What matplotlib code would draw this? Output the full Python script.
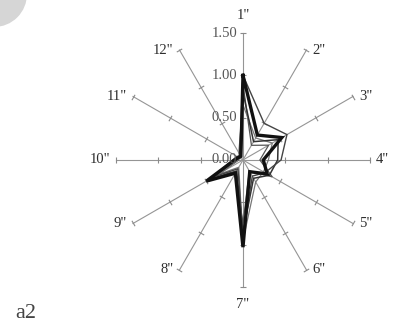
import numpy as np
import matplotlib
matplotlib.use("Agg")
import matplotlib.pyplot as plt
import matplotlib.patches as patches

# twelve directions, clock positions
CATEGORIES = ['1"', '2"', '3"', '4"', '5"', '6"', '7"', '8"', '9"', '10"', '11"', '12"']
RADIAL_TICKS = [0.0, 0.5, 1.0, 1.5]
RADIAL_LABELS = ["0.00", "0.50", "1.00", "1.50"]

# one list per profile, values for 1" .. 12"
prof_a = [1.00, 0.34, 0.53, 0.24, 0.33, 0.16, 1.03, 0.18, 0.50, 0.10, 0.06, 0.05]
prof_b = [1.00, 0.50, 0.60, 0.45, 0.30, 0.22, 0.90, 0.12, 0.40, 0.08, 0.05, 0.08]
prof_c = [0.80, 0.25, 0.48, 0.41, 0.36, 0.25, 0.85, 0.15, 0.45, 0.12, 0.08, 0.06]
prof_d = [0.65, 0.30, 0.40, 0.30, 0.28, 0.30, 0.95, 0.10, 0.35, 0.06, 0.04, 0.10]
prof_e = [0.90, 0.20, 0.35, 0.20, 0.40, 0.15, 0.75, 0.18, 0.30, 0.05, 0.07, 0.04]

profiles = [prof_e, prof_d, prof_c, prof_b, prof_a]
line_colors = ["#555555", "#777777", "#333333", "#444444", "#111111"]
line_widths = [0.9, 0.9, 1.1, 1.0, 2.4]

SERIF = ["Liberation Serif", "DejaVu Serif"]
TXT = "#2e2e2e"

fig = plt.figure(figsize=(3.98, 3.25), dpi=100)
fig.patch.set_facecolor("white")

# grey blotch in the upper-left corner
fig.patches.append(patches.Ellipse((-6 / 398, 1 + 6 / 325), 66 / 398, 66 / 325,
                                   transform=fig.transFigure, facecolor="#d6d6d6",
                                   edgecolor="none"))

ax = fig.add_axes([0.2915, 0.117, 0.638, 0.7815], projection="polar")
ax.set_theta_zero_location("N")
ax.set_theta_direction(-1)
ax.set_ylim(0, 1.5)
ax.set_axis_off()

n = len(CATEGORIES)
theta = np.linspace(0, 2 * np.pi, n, endpoint=False)
rmax = RADIAL_TICKS[-1]

# spokes with small cross ticks
for i, t in enumerate(theta):
    ax.plot([t, t], [0, rmax], color="#959595", lw=0.8, clip_on=False, zorder=1)
    rot = 90 - np.degrees(t)
    ax.plot([t] * 3, RADIAL_TICKS[1:], linestyle="none", marker=(2, 0, rot),
            markersize=4.5, markeredgewidth=0.8, markeredgecolor="#8a8a8a",
            clip_on=False, zorder=1)

# profiles
for vals, c, w in zip(profiles, line_colors, line_widths):
    v = np.append(vals, vals[0])
    t = np.append(theta, theta[0])
    ax.plot(t, v, color=c, lw=w, solid_joinstyle="miter", zorder=3)

# radial value labels along the 1" spoke
for r, lab in zip(RADIAL_TICKS, RADIAL_LABELS):
    ax.annotate(lab, xy=(0, r), xytext=(-6, 0), textcoords="offset pixels",
                ha="right", va="center", fontsize=10.5, family=SERIF,
                color="#555555", zorder=4)

# direction labels at spoke ends
for lab, t in zip(CATEGORIES, theta):
    s, c = np.sin(t), np.cos(t)
    if abs(s) < 0.01:
        ha, dx, dy = "center", 0, 18 * np.sign(c)
    else:
        ha = "left" if s > 0 else "right"
        dx, dy = 6 * np.sign(s), 0
    ax.annotate(lab, xy=(t, rmax), xytext=(dx, dy), textcoords="offset pixels",
                ha=ha, va="center", fontsize=10.5, family=SERIF, color=TXT)

fig.text(15 / 398, 1 - 314 / 325, "a2", fontsize=16, family=SERIF,
         color="#444444", ha="left", va="center")

fig.savefig("out.png", dpi=100, facecolor=fig.get_facecolor())
